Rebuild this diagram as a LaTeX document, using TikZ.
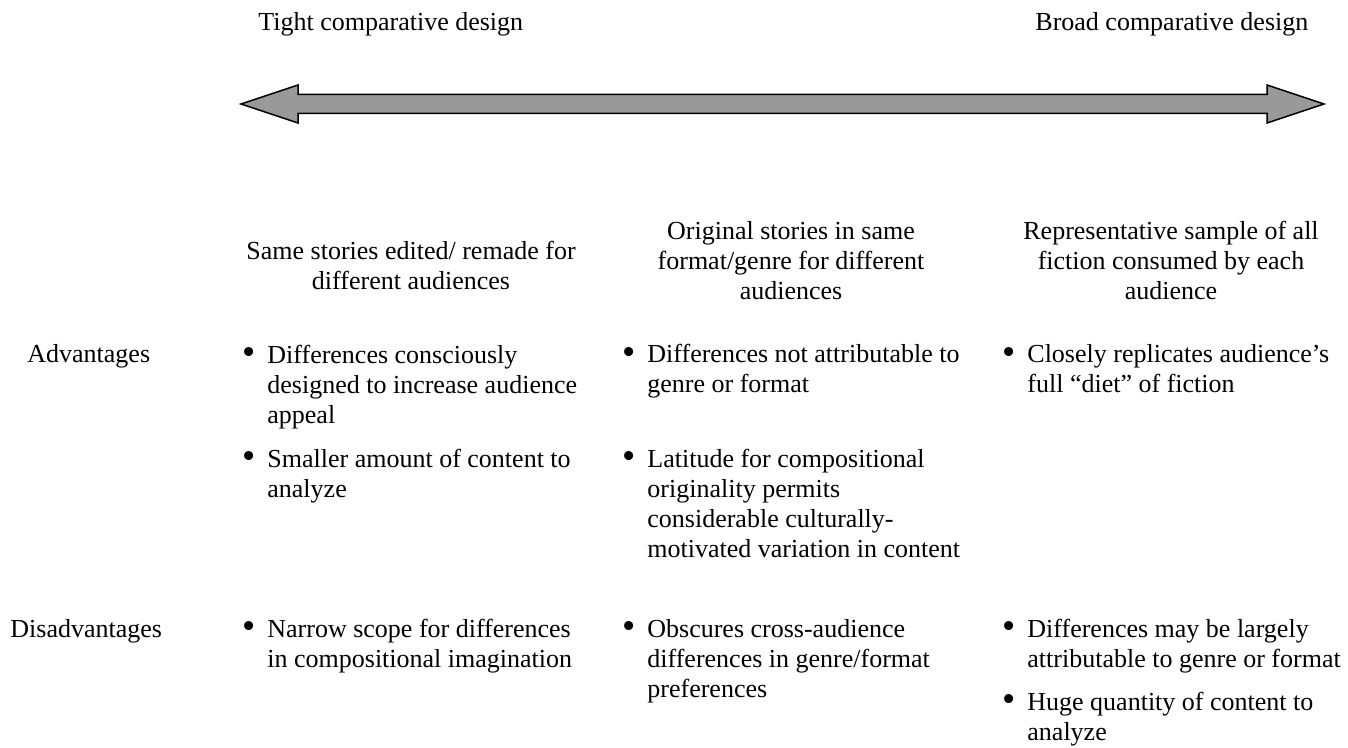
\documentclass[tikz,border=0pt]{standalone}
\usepackage{fontspec}
\usepackage{graphicx}
\setmainfont{Liberation Serif}
\usetikzlibrary{positioning}
\definecolor{arrowgray}{HTML}{999999}
\newcommand{\bl}{\makebox[12.5pt][l]{\raisebox{-0.6pt}{\scalebox{1.45}{\textbullet}}}}
\newcommand{\ind}{\hspace*{12.5pt}}

\begin{document}
\begin{tikzpicture}[x=0.5pt,y=-0.5pt,
  txt/.style={inner sep=0pt,font=\fontsize{13}{15}\selectfont},
  lbl/.style={txt,anchor=base west},
  hdr/.style={txt,anchor=base,align=center},
  item/.style={txt,anchor=base west,align=left},
  bigarrow/.style={draw=black,line width=0.75pt,fill=arrowgray,line join=miter}]
\useasboundingbox (0,0) rectangle (1348,748);
\node[lbl] (tight) at (258,31) {Tight comparative design};
\node[lbl] (broad) at (1035,31) {Broad comparative design};
\draw[bigarrow] (241,104) -- (298,85) -- (298,94.5) -- (1267,94.5) -- (1267,85)
  -- (1324,104) -- (1267,123) -- (1267,113.5) -- (298,113.5) -- (298,123) -- cycle;
% multi-line nodes sit on the baseline of their last line
\node[hdr] (h1) at (411,290) {Same stories edited/ remade for\\different audiences};
\node[hdr] (h2) at (791,300) {Original stories in same\\format/genre for different\\audiences};
\node[hdr] (h3) at (1171,300) {Representative sample of all\\fiction consumed by each\\audience};
\node[lbl] (adv) at (27,363) {Advantages};
\node[item] (a11) at (242,423) {\bl Differences consciously\\\ind designed to increase audience\\\ind appeal};
\node[item] (a12) at (242,497) {\bl Smaller amount of content to\\\ind analyze};
\node[item] (a21) at (622,393) {\bl Differences not attributable to\\\ind genre or format};
\node[item] (a22) at (622,557) {\bl Latitude for compositional\\\ind originality permits\\\ind considerable culturally-\\\ind motivated variation in content};
\node[item] (a31) at (1002,393) {\bl Closely replicates audience’s\\\ind full “diet” of fiction};
\node[lbl] (dis) at (10,637) {Disadvantages};
\node[item] (d11) at (242,667) {\bl Narrow scope for differences\\\ind in compositional imagination};
\node[item] (d21) at (622,697) {\bl Obscures cross-audience\\\ind differences in genre/format\\\ind preferences};
\node[item] (d31) at (1002,667) {\bl Differences may be largely\\\ind attributable to genre or format};
\node[item] (d32) at (1002,740) {\bl Huge quantity of content to\\\ind analyze};
\end{tikzpicture}
\end{document}
